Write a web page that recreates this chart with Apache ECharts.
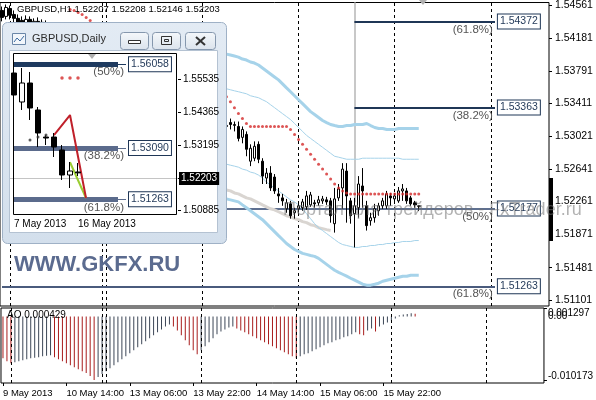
<!DOCTYPE html>
<html><head><meta charset="utf-8">
<script src="https://cdn.jsdelivr.net/npm/echarts@6/dist/echarts.min.js"></script>
<style>html,body{margin:0;padding:0;background:#fff}#c{width:596px;height:400px}</style>
</head><body><div id="c"></div>
<script>
// ---------------- DATA ----------------
const symbol = 'GBPUSD';
const barCount = 137;                       // H1 slots incl. chart shift
const timeTickBars = [0, 16, 32, 48, 64, 80, 96];
const timeTickLabels = ['9 May 2013', '10 May 14:00', '13 May 06:00', '13 May 22:00', '14 May 14:00', '15 May 06:00', '15 May 22:00'];
const separatorBars = [2, 25, 26, 50, 74, 98, 122];
const priceTicks = [1.54561, 1.54181, 1.53791, 1.53411, 1.53021, 1.52641, 1.52261, 1.51871, 1.51481, 1.51101];
const priceMin = 1.51031, priceMax = 1.54596;
const lastQuote = { open: 1.52207, high: 1.52208, low: 1.52146, close: 1.52203 };

// visible H1 candles [open, close, low, high]
const h1LeftFrom = 0;
const h1Left = [
  [1.54503, 1.54421, 1.54375, 1.54549], [1.54433, 1.54538, 1.54398, 1.54573], [1.54526, 1.54445, 1.54398, 1.54561],
  [1.54456, 1.54410, 1.54340, 1.54503], [1.54410, 1.54363, 1.54293, 1.54456], [1.54386, 1.54340, 1.54270, 1.54433],
  [1.54351, 1.54398, 1.54293, 1.54445], [1.54398, 1.54328, 1.54270, 1.54433], [1.54340, 1.54375, 1.54247, 1.54410],
  [1.54375, 1.54305, 1.54223, 1.54421], [1.54316, 1.54363, 1.54247, 1.54398], [1.54351, 1.54281, 1.54200, 1.54386],
  [1.54293, 1.54328, 1.54212, 1.54363]
];
const h1RightFrom = 56;
const h1Right = [
  [1.53140, 1.53152, 1.53105, 1.53198], [1.53186, 1.53163, 1.53105, 1.53233], [1.53152, 1.53163, 1.53082, 1.53198],
  [1.53140, 1.53000, 1.52965, 1.53198], [1.53012, 1.53105, 1.52942, 1.53140], [1.53047, 1.52872, 1.52790, 1.53082],
  [1.52732, 1.52884, 1.52674, 1.52930], [1.52767, 1.52907, 1.52732, 1.52965], [1.52930, 1.52755, 1.52709, 1.52965],
  [1.52732, 1.52557, 1.52464, 1.52767], [1.52534, 1.52592, 1.52464, 1.52651], [1.52592, 1.52418, 1.52383, 1.52674],
  [1.52546, 1.52383, 1.52348, 1.52581], [1.52348, 1.52324, 1.52243, 1.52418], [1.52301, 1.52266, 1.52208, 1.52348],
  [1.52173, 1.52243, 1.52126, 1.52289], [1.52231, 1.52092, 1.52057, 1.52266], [1.52126, 1.52150, 1.52057, 1.52185],
  [1.52173, 1.52208, 1.52126, 1.52243], [1.52185, 1.52254, 1.52150, 1.52289], [1.52196, 1.52324, 1.52161, 1.52383],
  [1.52219, 1.52336, 1.52196, 1.52371], [1.52243, 1.52231, 1.52185, 1.52278], [1.52243, 1.52278, 1.52208, 1.52324],
  [1.52266, 1.52289, 1.52231, 1.52324], [1.52278, 1.52254, 1.52219, 1.52313], [1.52266, 1.52092, 1.52010, 1.52301],
  [1.51998, 1.52289, 1.51893, 1.52418], [1.52301, 1.52406, 1.52266, 1.52464], [1.52418, 1.52639, 1.52173, 1.52709],
  [1.52616, 1.52324, 1.52010, 1.52709], [1.52266, 1.52092, 1.51998, 1.52301], [1.52115, 1.52208, 1.51719, 1.52301],
  [1.52185, 1.52464, 1.52068, 1.52557], [1.52441, 1.52383, 1.52185, 1.52651], [1.52208, 1.51975, 1.51917, 1.52266],
  [1.52033, 1.52068, 1.51975, 1.52126], [1.52068, 1.52173, 1.52010, 1.52231], [1.52150, 1.52208, 1.52092, 1.52243],
  [1.52208, 1.52266, 1.52173, 1.52301], [1.52208, 1.52348, 1.52173, 1.52383], [1.52324, 1.52301, 1.52208, 1.52359],
  [1.52289, 1.52324, 1.52231, 1.52359], [1.52266, 1.52383, 1.52243, 1.52429], [1.52383, 1.52406, 1.52266, 1.52464],
  [1.52383, 1.52266, 1.52231, 1.52418], [1.52301, 1.52231, 1.52208, 1.52324], [1.52243, 1.52219, 1.52185, 1.52266],
  [1.52207, 1.52203, 1.52146, 1.52208]
];

// indicator lines (visible part, from bar 56)
const bandsFrom = 56;
const envUpper = [1.53990, 1.53979, 1.53967, 1.53955, 1.53932, 1.53920, 1.53897, 1.53885, 1.53862, 1.53827,
  1.53792, 1.53757, 1.53722, 1.53687, 1.53641, 1.53594, 1.53548, 1.53501, 1.53454, 1.53408,
  1.53361, 1.53314, 1.53280, 1.53245, 1.53210, 1.53186, 1.53163, 1.53151, 1.53140, 1.53140,
  1.53151, 1.53151, 1.53163, 1.53163, 1.53163, 1.53175, 1.53151, 1.53128, 1.53116, 1.53116,
  1.53105, 1.53105, 1.53105, 1.53116, 1.53116, 1.53116, 1.53116, 1.53116, 1.53116];
const bbUpper = [1.53583, 1.53571, 1.53559, 1.53548, 1.53536, 1.53524, 1.53501, 1.53489, 1.53478, 1.53454,
  1.53431, 1.53396, 1.53361, 1.53326, 1.53291, 1.53256, 1.53221, 1.53175, 1.53128, 1.53082,
  1.53035, 1.53000, 1.52965, 1.52930, 1.52895, 1.52860, 1.52825, 1.52790, 1.52779, 1.52767,
  1.52755, 1.52755, 1.52755, 1.52755, 1.52767, 1.52767, 1.52767, 1.52767, 1.52767, 1.52767,
  1.52767, 1.52767, 1.52767, 1.52767, 1.52755, 1.52755, 1.52755, 1.52755, 1.52755];
const bbLower = [1.52697, 1.52685, 1.52674, 1.52662, 1.52639, 1.52627, 1.52604, 1.52592, 1.52569, 1.52534,
  1.52487, 1.52452, 1.52418, 1.52383, 1.52348, 1.52313, 1.52278, 1.52254, 1.52219, 1.52173,
  1.52115, 1.52057, 1.51998, 1.51951, 1.51917, 1.51882, 1.51847, 1.51812, 1.51777, 1.51753,
  1.51742, 1.51730, 1.51719, 1.51719, 1.51730, 1.51730, 1.51742, 1.51742, 1.51753, 1.51753,
  1.51765, 1.51765, 1.51777, 1.51777, 1.51789, 1.51789, 1.51789, 1.51800, 1.51800];
const envLower = [1.52289, 1.52278, 1.52266, 1.52254, 1.52219, 1.52185, 1.52150, 1.52115, 1.52080, 1.52045,
  1.51998, 1.51951, 1.51905, 1.51858, 1.51812, 1.51765, 1.51730, 1.51695, 1.51672, 1.51649,
  1.51637, 1.51625, 1.51614, 1.51590, 1.51555, 1.51520, 1.51485, 1.51451, 1.51427, 1.51404,
  1.51381, 1.51357, 1.51334, 1.51311, 1.51287, 1.51276, 1.51276, 1.51287, 1.51299, 1.51322,
  1.51334, 1.51346, 1.51357, 1.51369, 1.51381, 1.51381, 1.51392, 1.51392, 1.51392];
const maLine = [1.52394, 1.52383, 1.52359, 1.52348, 1.52324, 1.52301, 1.52289, 1.52266, 1.52243, 1.52219,
  1.52196, 1.52173, 1.52161, 1.52138, 1.52115, 1.52092, 1.52080, 1.52057, 1.52045, 1.52022,
  1.52010, 1.51986, 1.51975, 1.51951, 1.51940, 1.51928, 1.51917];

// parabolic-style red dots
const sarLeftFrom = 17;
const sarLeft = [1.54514, 1.54503, 1.54480, 1.54456, 1.54421, 1.54386, 1.54351];
const sarRightFrom = 56;
const sarRight = [1.53489, 1.53431, 1.53361, 1.53291, 1.53233, 1.53175,
  1.53140, 1.53140, 1.53140, 1.53140, 1.53140, 1.53140, 1.53140, 1.53140, 1.53140, 1.53140,
  1.53105, 1.53047, 1.52988, 1.52930, 1.52872, 1.52814, 1.52755, 1.52697, 1.52639, 1.52581,
  1.52522, 1.52464, 1.52418, 1.52383, 1.52359,
  1.52348, 1.52348, 1.52348, 1.52348, 1.52348, 1.52348, 1.52348, 1.52348, 1.52348,
  1.52348, 1.52348, 1.52348, 1.52348, 1.52348, 1.52348, 1.52348, 1.52348, 1.52348];

// Fibonacci objects on H1
const fibPrices = [1.54372, 1.53363, 1.52177, 1.51263];
const fibTexts = ['(61.8%)', '(38.2%)', '(50%)', '(61.8%)'];
const fibFromBar = [88, 88, 0, 0];
const fibToBar = [123, 123, 123, 123];
const vlineBar = 88, vlineLow = 1.5225;

// Awesome Oscillator
const aoValues = [-0.00668, -0.00716, -0.00747, -0.00731, -0.00716, -0.00700, -0.00684, -0.00668, -0.00660, -0.00652,
  -0.00636, -0.00628, -0.00620, -0.00652, -0.00684, -0.00716, -0.00747, -0.00779, -0.00811, -0.00843,
  -0.00875, -0.00906, -0.00954, -0.010173, -0.00970, -0.00922, -0.00875, -0.00827, -0.00779, -0.00731,
  -0.00684, -0.00636, -0.00588, -0.00541, -0.00493, -0.00445, -0.00398, -0.00350, -0.00302, -0.00254,
  -0.00207, -0.00159, -0.00127, -0.00159, -0.00223, -0.00302, -0.00382, -0.00461, -0.00541, -0.00604,
  -0.00541, -0.00477, -0.00413, -0.00350, -0.00286, -0.00239, -0.00207, -0.00175, -0.00159, -0.00191,
  -0.00223, -0.00254, -0.00286, -0.00318, -0.00350, -0.00382, -0.00413, -0.00445, -0.00477, -0.00509,
  -0.00541, -0.00572, -0.00604, -0.00636, -0.00668, -0.00636, -0.00604, -0.00588, -0.00557, -0.00525,
  -0.00493, -0.00461, -0.00429, -0.00413, -0.00382, -0.00366, -0.00334, -0.00318, -0.00286, -0.00254,
  -0.00286, -0.00302, -0.00223, -0.00191, -0.00239, -0.00159, -0.00127, -0.00095, -0.00064, -0.00032,
  0.00018, 0.00030, 0.00041, 0.00052, 0.000429];
const aoTicks = [0.001297, -0.010173];
const aoZeroTick = [0];
const aoMin = -0.01064, aoMax = 0.00135;

// Daily inset
const dailyCount = 21;
const dailyDateBars = [0, 8];
const dailyDateLabels = ['7 May 2013', '16 May 2013'];
const dailyBars = [
  [1.55748, 1.54967, 1.54435, 1.55961], [1.54719, 1.55393, 1.54435, 1.55926], [1.55393, 1.54506, 1.54080, 1.55784],
  [1.54435, 1.53618, 1.53121, 1.54541], [1.53476, 1.53440, 1.53192, 1.53547], [1.53476, 1.53121, 1.52766, 1.53618],
  [1.53015, 1.52127, 1.51950, 1.53192], [1.52127, 1.52269, 1.51666, 1.52589], [1.52234, 1.52203, 1.52092, 1.52553]
];
const dailyTicks = [1.55535, 1.54365, 1.53195, 1.52025, 1.50885];
const dailyMin = 1.50743, dailyMax = 1.56458;
const dailyFibPrices = [1.56058, 1.53090, 1.51263];
const dailyFibTexts = ['(50%)', '(38.2%)', '(61.8%)'];
const dailyFibToBar = 13;
const dailySarFrom = 6;
const dailySar = [1.5557, 1.5557, 1.5557];
const dailyDotsFrom = 2;
const dailyDots = [1.53370, 1.53476, 1.53547];
const zigzagBars = [5, 7, 9], zigzagPrices = [1.53547, 1.54257, 1.51311];
const greenBars = [7, 9], greenPrices = [1.52580, 1.51311];

// ---------------- CHART ----------------
const FONT = '"Liberation Sans", Arial, sans-serif';
const chart = echarts.init(document.getElementById('c'), null, { renderer: 'canvas', width: 596, height: 400 });
const cats = Array.from({ length: barCount }, (_, i) => 'h' + i);
const dCats = Array.from({ length: dailyCount }, (_, i) => 'd' + i);
const pairs = (from, arr) => arr.map((v, i) => [from + i, v]);
const ohlc = (from, arr) => arr.map((b, i) => [from + i, b[0], b[1], b[2], b[3]]);
const NAVY = '#1f3656';
const fibColors = [NAVY, NAVY, '#5f7090', '#4a5b7d'];
const seg = (a, b, lineStyle, label) => [{ coord: a, lineStyle, label }, { coord: b }];

const sepLines = separatorBars.map(b => ({ xAxis: b, lineStyle: { color: '#000', width: 1, type: [3, 3] }, label: { show: false } }));
const boxLabel = (txt) => ({ show: true, position: 'end', distance: 3, formatter: txt, color: NAVY, fontFamily: FONT, fontSize: 10.5,
  backgroundColor: '#fff', borderColor: NAVY, borderWidth: 1, padding: [2, 2, 1, 2] });
const pctLabel = (txt) => ({ show: true, position: 'insideEndBottom', distance: 2, formatter: txt, color: '#555', fontFamily: FONT, fontSize: 11.5 });
const priceBox = (fs) => ({ show: true, position: 'end', distance: 1, formatter: lastQuote.close.toFixed(5), color: '#fff',
  backgroundColor: '#000', padding: [2, 2, 1, 2], fontFamily: FONT, fontSize: fs });

const mainObjects = [];
fibPrices.forEach((p, i) => {
  const a = [fibFromBar[i], p], b = [fibToBar[i], p];
  const ls = { color: fibColors[i], width: 2, type: 'solid' };
  mainObjects.push(seg(a, b, ls, boxLabel(p.toFixed(5))));
  mainObjects.push(seg(a, b, ls, pctLabel(fibTexts[i])));
});

const dailyObjects = [];
dailyFibPrices.forEach((p, i) => {
  const col = i === 0 ? '#1e3a5f' : '#5b6b8c';
  dailyObjects.push(seg([0, p], [dailyFibToBar, p], { color: col, width: 5, type: 'solid' }, { show: false }));
  dailyObjects.push(seg([0, p], [dailyFibToBar + 1, p], { color: col, width: 1, type: 'solid' }, boxLabel(p.toFixed(5))));
  dailyObjects.push(seg([0, p], [dailyFibToBar + 1, p], { color: col, width: 1, type: 'solid' }, pctLabel(dailyFibTexts[i])));
});

const axisTxt = { color: '#000', fontFamily: FONT, fontSize: 10 };
const Z_IN = 120;

const option = {
  animation: false,
  backgroundColor: '#fff',
  grid: [
    { left: 0, top: 0, width: 549, height: 306, show: true, borderColor: '#000', borderWidth: 1, backgroundColor: 'transparent' },
    { left: 0, top: 308, width: 549, height: 75, show: true, borderColor: '#000', borderWidth: 1, backgroundColor: 'transparent' },
    { left: 10, top: 53, width: 168, height: 161, show: false }
  ],
  xAxis: [
    { type: 'category', gridIndex: 0, data: cats, boundaryGap: true, axisLine: { show: false, onZero: false }, axisTick: { show: false }, axisLabel: { show: false }, splitLine: { show: false } },
    { type: 'category', gridIndex: 1, data: cats, boundaryGap: true, position: 'bottom', axisLine: { show: false, onZero: false },
      axisTick: { show: true, alignWithLabel: true, length: 3, lineStyle: { color: '#000' }, interval: (i) => timeTickBars.includes(i) },
      axisLabel: { show: true, align: 'left', margin: 5, fontSize: 9.5, color: '#000', fontFamily: FONT, interval: (i) => timeTickBars.includes(i),
        formatter: (v, i) => timeTickLabels[timeTickBars.indexOf(i)] || '' },
      splitLine: { show: false } },
    { type: 'category', gridIndex: 2, data: dCats, boundaryGap: true, z: 110, axisLine: { show: false, onZero: false }, axisTick: { show: false },
      axisLabel: Object.assign({}, axisTxt, { align: 'left', margin: 5, interval: (i) => dailyDateBars.includes(i),
        formatter: (v, i) => dailyDateLabels[dailyDateBars.indexOf(i)] || '' }), splitLine: { show: false } }
  ],
  yAxis: [
    { type: 'value', gridIndex: 0, position: 'right', min: priceMin, max: priceMax, scale: true,
      axisLine: { show: false }, splitLine: { show: false },
      axisTick: { show: true, length: 3, lineStyle: { color: '#000' }, customValues: priceTicks },
      axisLabel: Object.assign({}, axisTxt, { fontSize: 10.5, margin: 6, customValues: priceTicks, formatter: v => v.toFixed(5) }) },
    { type: 'value', gridIndex: 1, position: 'right', min: aoMin, max: aoMax,
      axisLine: { show: false }, splitLine: { show: false },
      axisTick: { show: true, length: 3, lineStyle: { color: '#000' }, customValues: aoTicks },
      axisLabel: Object.assign({}, axisTxt, { margin: 4, customValues: aoTicks, hideOverlap: false,
        formatter: v => v > 0 ? '{t|' + v.toFixed(6) + '}' : '{b|' + v.toFixed(6) + '}',
        rich: { t: { padding: [10, 0, 0, 0], fontSize: 10, fontFamily: FONT, color: '#000' },
                b: { padding: [0, 0, 7, 0], fontSize: 10, fontFamily: FONT, color: '#000' } } }) },
    { type: 'value', gridIndex: 2, position: 'right', min: dailyMin, max: dailyMax, scale: true, z: 110,
      axisLine: { show: false }, splitLine: { show: false },
      axisTick: { show: true, length: 3, lineStyle: { color: '#000' }, customValues: dailyTicks },
      axisLabel: Object.assign({}, axisTxt, { margin: 5, customValues: dailyTicks, formatter: v => v.toFixed(5) }) },
    { type: 'value', gridIndex: 1, position: 'right', min: aoMin, max: aoMax,
      axisLine: { show: false }, splitLine: { show: false }, axisTick: { show: false },
      axisLabel: Object.assign({}, axisTxt, { margin: 4, customValues: aoZeroTick, formatter: () => '0.00' }) }
  ],
  series: [
    // chart objects (separators, fibo, vertical line)
    { type: 'line', xAxisIndex: 0, yAxisIndex: 0, data: [], z: 1, silent: true,
      markLine: { silent: true, z: 1, symbol: ['none', 'none'], animation: false,
        data: sepLines
          .concat([seg([vlineBar, priceMax], [vlineBar, vlineLow], { color: '#c8c8c8', width: 2, type: 'solid' }, { show: false })])
          .concat(mainObjects) } },
    { type: 'line', xAxisIndex: 0, yAxisIndex: 0, data: pairs(bandsFrom, maLine), showSymbol: false, z: 2,
      lineStyle: { color: '#d9d5d1', width: 3 } },
    { type: 'line', xAxisIndex: 0, yAxisIndex: 0, data: pairs(bandsFrom, envUpper), showSymbol: false, z: 2,
      lineStyle: { color: '#a6d3ea', width: 3 } },
    { type: 'line', xAxisIndex: 0, yAxisIndex: 0, data: pairs(bandsFrom, envLower), showSymbol: false, z: 2,
      lineStyle: { color: '#a6d3ea', width: 3 } },
    { type: 'line', xAxisIndex: 0, yAxisIndex: 0, data: pairs(bandsFrom, bbUpper), showSymbol: false, z: 2,
      lineStyle: { color: '#a6d3ea', width: 1 } },
    { type: 'line', xAxisIndex: 0, yAxisIndex: 0, data: pairs(bandsFrom, bbLower), showSymbol: false, z: 2,
      lineStyle: { color: '#a6d3ea', width: 1 } },
    { type: 'candlestick', xAxisIndex: 0, yAxisIndex: 0, z: 3, barWidth: 3,
      encode: { x: 0, y: [1, 2, 3, 4] },
      data: ohlc(h1LeftFrom, h1Left).concat(ohlc(h1RightFrom, h1Right)),
      itemStyle: { color: '#fff', color0: '#000', borderColor: '#000', borderColor0: '#000', borderWidth: 1 } },
    { type: 'scatter', xAxisIndex: 0, yAxisIndex: 0, z: 4, symbol: 'circle', symbolSize: 3,
      data: pairs(sarLeftFrom, sarLeft).concat(pairs(sarRightFrom, sarRight)), itemStyle: { color: '#d42a2a' } },
    // current price label
    { type: 'line', xAxisIndex: 0, yAxisIndex: 0, data: [], z: 6, silent: true,
      markLine: { silent: true, z: 6, symbol: ['none', 'none'], animation: false,
        data: [{ yAxis: lastQuote.close, lineStyle: { opacity: 0 }, label: Object.assign(priceBox(10.5), { distance: 2, padding: [2, 3, 1, 3] }) }] } },
    // AO
    { type: 'bar', xAxisIndex: 1, yAxisIndex: 1, barWidth: 1, z: 2,
      data: aoValues.map((v, i) => ({ value: v, itemStyle: { color: (i > 0 && v >= aoValues[i - 1]) ? '#3c4656' : '#a81c1c' } })),
      markLine: { silent: true, z: 3, symbol: ['none', 'none'], animation: false, data: sepLines } },
    // Daily inset
    { type: 'line', xAxisIndex: 2, yAxisIndex: 2, data: [], z: Z_IN - 2, silent: true,
      markLine: { silent: true, z: Z_IN - 2, symbol: ['none', 'none'], animation: false,
        data: [{ yAxis: lastQuote.close, lineStyle: { color: '#c4c4c4', width: 1, type: 'solid' }, label: priceBox(10) }].concat(dailyObjects) } },
    { type: 'line', xAxisIndex: 2, yAxisIndex: 2, z: Z_IN - 1, showSymbol: false,
      data: greenBars.map((b, i) => [b, greenPrices[i]]), lineStyle: { color: '#9acd32', width: 2 } },
    { type: 'line', xAxisIndex: 2, yAxisIndex: 2, z: Z_IN - 1, showSymbol: false,
      data: zigzagBars.map((b, i) => [b, zigzagPrices[i]]), lineStyle: { color: '#c0202a', width: 2 } },
    { type: 'candlestick', xAxisIndex: 2, yAxisIndex: 2, z: Z_IN, barWidth: 5,
      encode: { x: 0, y: [1, 2, 3, 4] }, data: ohlc(0, dailyBars),
      itemStyle: { color: '#fff', color0: '#000', borderColor: '#000', borderColor0: '#000', borderWidth: 1 } },
    { type: 'scatter', xAxisIndex: 2, yAxisIndex: 2, z: Z_IN + 1, symbolSize: 3.5,
      data: pairs(dailySarFrom, dailySar), itemStyle: { color: '#d42a2a' } },
    { type: 'scatter', xAxisIndex: 2, yAxisIndex: 2, z: Z_IN + 1, symbolSize: 3,
      data: pairs(dailyDotsFrom, dailyDots), itemStyle: { color: '#333' } }
  ],
  graphic: [
    { type: 'text', z: 50, left: 17, top: 4, style: { text: symbol + ',H1 ' + [lastQuote.open, lastQuote.high, lastQuote.low, lastQuote.close].map(v => v.toFixed(5)).join(' '),
        fill: '#000', font: '9.5px ' + FONT } },
    { type: 'text', z: 50, left: 7, top: 310, style: { text: 'AO ' + aoValues[aoValues.length - 1].toFixed(6), fill: '#000', font: '10px ' + FONT } },
    { type: 'text', z: 20, left: 14, top: 254, style: { text: 'WWW.GKFX.RU', fill: '#5b6b8f', font: 'bold 22px ' + FONT } },
    { type: 'text', z: 60, left: 283, top: 201, style: { text: 'Портал для трейдеров - FxTrader.ru', fill: 'rgba(115,115,115,0.55)', font: '18px ' + FONT } },
    { type: 'rect', z: 10, shape: { x: 549, y: 178, width: 4, height: 63 }, style: { fill: '#000' } },
    { type: 'polygon', z: 10, shape: { points: [[419, 0], [427, 0], [423, 5]] }, style: { fill: '#b0b0b0' } },
    // inset window chrome
    { type: 'rect', z: 100, shape: { x: 2.5, y: 22.5, width: 224, height: 221, r: 5 },
      style: { fill: new echarts.graphic.LinearGradient(0, 0, 0, 1, [{ offset: 0, color: '#e3ebf4' }, { offset: 1, color: '#d3dfec' }]), stroke: '#9fb1c6', lineWidth: 1 } },
    { type: 'rect', z: 101, shape: { x: 9.5, y: 50.5, width: 208, height: 182 }, style: { fill: '#fff', stroke: '#b4c2d2', lineWidth: 1 } },
    { type: 'rect', z: 126, shape: { x: 13.5, y: 53.5, width: 163, height: 161 }, style: { fill: 'none', stroke: '#000', lineWidth: 1 } },
    { type: 'polygon', z: 126, shape: { points: [[88, 54], [96, 54], [92, 59]] }, style: { fill: '#b0b0b0' } },
    { type: 'rect', z: 102, shape: { x: 12.5, y: 33.5, width: 13, height: 11 }, style: { fill: '#f2f6fb', stroke: '#6a86a8', lineWidth: 1 } },
    { type: 'polyline', z: 103, shape: { points: [[14, 42], [17, 38], [20, 41], [24, 36]] }, style: { stroke: '#3a6aa0', lineWidth: 1, fill: 'none' } },
    { type: 'text', z: 103, left: 32, top: 33, style: { text: symbol + ',Daily', fill: '#2b2b2b', font: '11px ' + FONT } },
    { type: 'rect', z: 102, shape: { x: 120.5, y: 32.5, width: 28, height: 17, r: 3 },
      style: { fill: new echarts.graphic.LinearGradient(0, 0, 0, 1, [{ offset: 0, color: '#f5f8fb' }, { offset: 1, color: '#dbe3ec' }]), stroke: '#8597ad', lineWidth: 1 } },
    { type: 'rect', z: 102, shape: { x: 152.5, y: 32.5, width: 28, height: 17, r: 3 },
      style: { fill: new echarts.graphic.LinearGradient(0, 0, 0, 1, [{ offset: 0, color: '#f5f8fb' }, { offset: 1, color: '#dbe3ec' }]), stroke: '#8597ad', lineWidth: 1 } },
    { type: 'rect', z: 102, shape: { x: 185.5, y: 32.5, width: 30, height: 17, r: 3 },
      style: { fill: new echarts.graphic.LinearGradient(0, 0, 0, 1, [{ offset: 0, color: '#f5f8fb' }, { offset: 1, color: '#dbe3ec' }]), stroke: '#8597ad', lineWidth: 1 } },
    { type: 'rect', z: 103, shape: { x: 128.5, y: 40.5, width: 12, height: 3 }, style: { fill: '#fff', stroke: '#333', lineWidth: 1 } },
    { type: 'rect', z: 103, shape: { x: 161.5, y: 36.5, width: 10, height: 8 }, style: { fill: 'none', stroke: '#333', lineWidth: 1 } },
    { type: 'rect', z: 103, shape: { x: 164.5, y: 39.5, width: 4, height: 2 }, style: { fill: 'none', stroke: '#333', lineWidth: 1 } },
    { type: 'line', z: 103, shape: { x1: 196, y1: 37, x2: 205, y2: 45 }, style: { stroke: '#333', lineWidth: 2 } },
    { type: 'line', z: 103, shape: { x1: 205, y1: 37, x2: 196, y2: 45 }, style: { stroke: '#333', lineWidth: 2 } }
  ]
};
chart.setOption(option);
</script>
</body></html>
